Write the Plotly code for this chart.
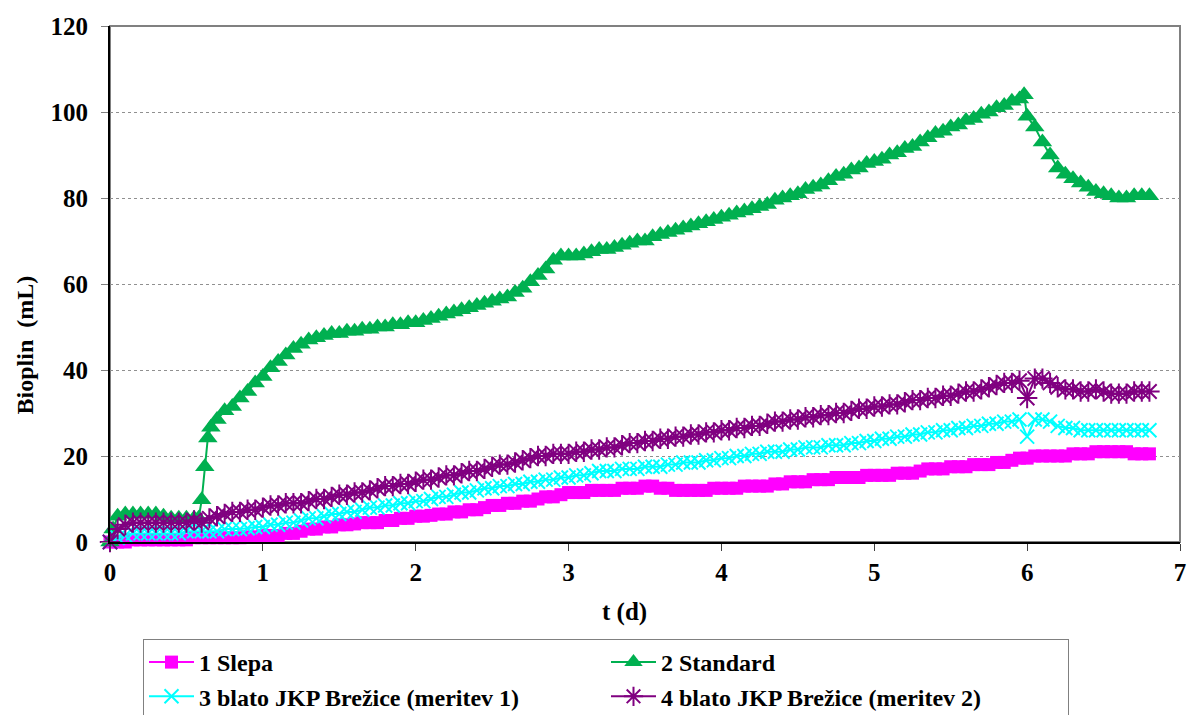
import plotly.graph_objects as go

# ---- data (t in days, biogas in mL) ----
t = [0.0, 0.05, 0.1, 0.15, 0.2, 0.25, 0.3, 0.35, 0.4, 0.45, 0.5, 0.55, 0.6, 0.65, 0.7, 0.75, 0.8, 0.85, 0.9, 0.95,
     1.0, 1.05, 1.1, 1.15, 1.2, 1.25, 1.3, 1.35, 1.4, 1.45, 1.5, 1.55, 1.6, 1.65, 1.7, 1.75, 1.8, 1.85, 1.9, 1.95,
     2.0, 2.05, 2.1, 2.15, 2.2, 2.25, 2.3, 2.35, 2.4, 2.45, 2.5, 2.55, 2.6, 2.65, 2.7, 2.75, 2.8, 2.85, 2.9, 2.95,
     3.0, 3.05, 3.1, 3.15, 3.2, 3.25, 3.3, 3.35, 3.4, 3.45, 3.5, 3.55, 3.6, 3.65, 3.7, 3.75, 3.8, 3.85, 3.9, 3.95,
     4.0, 4.05, 4.1, 4.15, 4.2, 4.25, 4.3, 4.35, 4.4, 4.45, 4.5, 4.55, 4.6, 4.65, 4.7, 4.75, 4.8, 4.85, 4.9, 4.95,
     5.0, 5.05, 5.1, 5.15, 5.2, 5.25, 5.3, 5.35, 5.4, 5.45, 5.5, 5.55, 5.6, 5.65, 5.7, 5.75, 5.8, 5.85, 5.9, 5.95,
     6.0, 6.05, 6.1, 6.15, 6.2, 6.25, 6.3, 6.35, 6.4, 6.45, 6.5, 6.55, 6.6, 6.65, 6.7, 6.75, 6.8]

slepa = [0, 0, 0, 0.5, 0.5, 0.5, 0.5, 0.5, 0.5, 0.5, 0.5, 1, 1, 1, 1, 1, 1, 1, 1.2, 1.2,
         1.5, 1.5, 1.5, 2, 2, 2.5, 3, 3, 3.5, 3.5, 4, 4, 4.2, 4.5, 4.5, 4.5, 5, 5, 5.5, 5.5,
         6, 6, 6.2, 6.5, 6.5, 7, 7, 7.5, 7.5, 8, 8.5, 8.5, 9, 9, 9.5, 9.5, 10, 10.5, 10.5, 11,
         11.5, 11.5, 11.5, 12, 12, 12, 12, 12.5, 12.5, 12.5, 13, 13, 12.5, 12.5, 12, 12, 12, 12, 12, 12.5,
         12.5, 12.5, 12.5, 13, 13, 13, 13, 13.5, 13.5, 14, 14, 14, 14.5, 14.5, 14.5, 15, 15, 15, 15, 15.5,
         15.5, 15.5, 15.5, 16, 16, 16, 16.5, 17, 17, 17, 17.5, 17.5, 17.5, 18, 18, 18, 18.5, 18.5, 19, 19.5,
         19.5, 20, 20, 20, 20, 20, 20.5, 20.5, 20.5, 21, 21, 21, 21, 21, 20.5, 20.5, 20.5]

meritev1 = [0, 1, 1.5, 2, 2, 2, 2, 2, 2, 2, 2.5, 2.5, 2.5, 2.5, 2.5, 3, 3, 3, 3.2, 3.5,
            3.5, 4, 4, 4.5, 4.5, 5, 5.5, 5.5, 6, 6.5, 6.5, 7, 7, 7.5, 8, 8, 8.5, 8.5, 9, 9,
            9.5, 9.5, 10, 10.5, 10.5, 11, 11.5, 11.5, 12, 12.5, 12.5, 13, 13, 13.5, 13.5, 14, 14, 14.5, 14.5, 15,
            15, 15.5, 15.5, 16, 16.5, 16.5, 16.5, 17, 17, 17, 17.5, 17.5, 17.5, 18, 18, 18.5, 18.5, 18.5, 19, 19,
            19.5, 19.5, 20, 20, 20.5, 20.5, 21, 21, 21, 21.5, 21.5, 22, 22, 22, 22.5, 22.5, 22.5, 23, 23, 23.5,
            23.5, 24, 24, 24.5, 24.5, 25, 25, 25.5, 25.5, 26, 26, 26.5, 26.5, 27, 27, 27.5, 27.5, 28, 28, 28.5,
            24.5, 28.5, 28.5, 28, 27, 26.5, 26.5, 26, 26, 26, 26, 26, 26, 26, 26, 26, 26]

meritev2 = [0, 3, 4, 4.5, 4.5, 4.5, 4.5, 4.5, 4.5, 4.5, 4.5, 5, 4.5, 5.5, 6, 6.5, 7, 7, 7.5, 7.5,
            8, 8.5, 8.5, 9, 9, 9, 9.5, 10, 10, 10.5, 11, 11, 11.5, 11.5, 12, 12.5, 13, 13, 13.5, 13.5,
            14, 14.5, 14.5, 15, 15.5, 15.5, 16, 16.5, 16.5, 17, 17.5, 18, 18, 18.5, 19, 19.5, 20, 20, 20.5, 20.5,
            20.5, 21, 21, 21.5, 21.5, 22, 22, 22.5, 23, 23, 23.5, 23.5, 24, 24, 24.5, 24.5, 25, 25, 25.5, 25.5,
            26, 26, 26.5, 26.5, 27, 27, 27.5, 28, 28, 28.5, 28.5, 29, 29, 29.5, 29.5, 30, 30, 30.5, 31, 31,
            31.5, 31.5, 32, 32, 32.5, 33, 33, 33.5, 33.5, 34, 34, 34.5, 35, 35, 35.5, 36, 36.5, 37, 37, 37.5,
            33.5, 38, 38, 37, 36, 35.5, 35.5, 35, 35, 35.5, 35, 34.5, 34.5, 34.5, 35, 35, 35]

t_std = [0.0, 0.02, 0.05, 0.1, 0.15, 0.2, 0.25, 0.3, 0.35, 0.4, 0.45, 0.5, 0.55, 0.58, 0.6, 0.62, 0.64, 0.66,
         0.7, 0.75, 0.8, 0.85, 0.9, 0.95,
         1.0, 1.05, 1.1, 1.15, 1.2, 1.25, 1.3, 1.35, 1.4, 1.45, 1.5, 1.55, 1.6, 1.65, 1.7, 1.75, 1.8, 1.85, 1.9, 1.95,
         2.0, 2.05, 2.1, 2.15, 2.2, 2.25, 2.3, 2.35, 2.4, 2.45, 2.5, 2.55, 2.6, 2.65, 2.7, 2.75, 2.8, 2.85, 2.9, 2.95,
         3.0, 3.05, 3.1, 3.15, 3.2, 3.25, 3.3, 3.35, 3.4, 3.45, 3.5, 3.55, 3.6, 3.65, 3.7, 3.75, 3.8, 3.85, 3.9, 3.95,
         4.0, 4.05, 4.1, 4.15, 4.2, 4.25, 4.3, 4.35, 4.4, 4.45, 4.5, 4.55, 4.6, 4.65, 4.7, 4.75, 4.8, 4.85, 4.9, 4.95,
         5.0, 5.05, 5.1, 5.15, 5.2, 5.25, 5.3, 5.35, 5.4, 5.45, 5.5, 5.55, 5.6, 5.65, 5.7, 5.75, 5.8, 5.85, 5.9, 5.95,
         5.98, 6.0, 6.05, 6.1, 6.15, 6.2, 6.25, 6.3, 6.35, 6.4, 6.45, 6.5, 6.55, 6.6, 6.65, 6.7, 6.75, 6.8]

standard = [0, 3, 6, 6.5, 6.5, 6.5, 6.5, 6.5, 6, 5.5, 5.5, 5.5, 5.5, 5.5, 9.8, 17.5, 24.2, 26.7,
            28.5, 30.5, 31.5, 33.5, 35, 37,
            38.5, 40.5, 42, 43.5, 45, 46, 47, 47.5, 48, 48.5, 48.5, 49, 49, 49.5, 49.5, 50, 50, 50.5, 50.5, 51,
            51, 51.5, 52, 52.5, 53, 53.5, 54, 54.5, 55, 55.5, 56, 56.5, 57, 58, 59, 60.5, 62, 63.5, 65.5, 66.5,
            66.5, 66.5, 67, 67.5, 68, 68, 68.5, 69, 69.5, 70, 70, 71, 71.5, 72, 72.5, 73, 73.5, 74, 74.5, 75,
            75.5, 76, 76.5, 77, 77.5, 78, 78.5, 79.5, 80, 80.5, 81, 82, 82.5, 83, 84, 85, 85.5, 86.5, 87, 88,
            88.5, 89, 90, 90.5, 91.5, 92, 93, 94, 95, 95.5, 96.5, 97, 98, 98.5, 99.5, 100, 101, 101.5, 102.5, 103,
            104, 99, 96.5, 93, 90, 87, 85.5, 84.5, 83.5, 82.5, 81.5, 81, 80.5, 80, 80, 80.5, 80.5, 80.5]

series_names = ["1 Slepa", "2 Standard", "3 blato JKP Brežice (meritev 1)", "4 blato JKP Brežice (meritev 2)"]
x_ticks = [0, 1, 2, 3, 4, 5, 6, 7]
y_ticks = [0, 20, 40, 60, 80, 100, 120]
x_title = "t (d)"
y_title = "Bioplin\u00a0 (mL)"

FONT = "'Liberation Serif', 'Times New Roman', 'DejaVu Serif', serif"

fig = go.Figure()
fig.add_trace(go.Scatter(
    x=t, y=slepa, name=series_names[0], mode="lines+markers", cliponaxis=False,
    line=dict(color="#FF00FF", width=2),
    marker=dict(symbol="square", size=13, color="#FF00FF")))
fig.add_trace(go.Scatter(
    x=t_std, y=standard, name=series_names[1], mode="lines+markers", cliponaxis=False,
    line=dict(color="#00B050", width=2),
    marker=dict(symbol="triangle-up", size=17, color="#00B050")))
fig.add_trace(go.Scatter(
    x=t, y=meritev1, name=series_names[2], mode="lines+markers", cliponaxis=False,
    line=dict(color="#00FFFF", width=2),
    marker=dict(symbol="x-thin-open", size=14, color="#00FFFF", line=dict(width=2, color="#00FFFF"))))
fig.add_trace(go.Scatter(
    x=t, y=meritev2, name=series_names[3], mode="lines+markers", cliponaxis=False,
    line=dict(color="#800080", width=2),
    marker=dict(symbol="asterisk-open", size=17, color="#800080", line=dict(width=2, color="#800080"))))

fig.add_shape(type="rect", xref="paper", yref="paper", x0=0, y0=0, x1=1, y1=1,
              line=dict(color="#808080", width=2), layer="below")

# axis titles placed as annotations (reference places them off-centre)
fig.add_annotation(text=x_title, xref="paper", yref="paper", x=(627 - 110) / 1076, y=(542 - 612) / 516,
                   xanchor="center", yanchor="middle", showarrow=False,
                   font=dict(family=FONT, size=25, color="black", weight="bold"))
fig.add_annotation(text=y_title, xref="paper", yref="paper", x=(25 - 110) / 1076, y=(542 - 345) / 516,
                   xanchor="center", yanchor="middle", textangle=-90, showarrow=False,
                   font=dict(family=FONT, size=24, color="black", weight="bold"))

fig.update_layout(
    width=1192, height=715,
    margin=dict(l=110, r=6, t=26, b=173),
    paper_bgcolor="white", plot_bgcolor="white",
    font=dict(family=FONT, size=24, color="black", weight="bold"),
    showlegend=True,
    legend=dict(
        orientation="h", xref="container", yref="container",
        x=143 / 1192, y=1 - 639 / 715, xanchor="left", yanchor="top",
        bordercolor="#808080", borderwidth=1, bgcolor="white",
        font=dict(family=FONT, size=24, color="black", weight="bold"),
        entrywidth=402, entrywidthmode="pixels", itemwidth=45,
        traceorder="normal"),
    xaxis=dict(
        range=[0, 7], tickvals=x_ticks, showgrid=False, zeroline=False,
        showline=True, linecolor="black", linewidth=2,
        ticks="outside", ticklen=7, tickcolor="#404040", tickwidth=1,
        ticklabeloverflow="allow",
        tickfont=dict(family=FONT, size=25, weight="bold")),
    yaxis=dict(
        range=[0, 120], tickvals=y_ticks, showgrid=True, gridcolor="#909090", griddash="dot", gridwidth=1,
        zeroline=False, showline=True, linecolor="black", linewidth=2,
        ticks="outside", ticklen=7, tickcolor="#808080", tickwidth=1, ticklabelstandoff=8,
        tickfont=dict(family=FONT, size=25, weight="bold")),
)

fig.write_html("out.html")
